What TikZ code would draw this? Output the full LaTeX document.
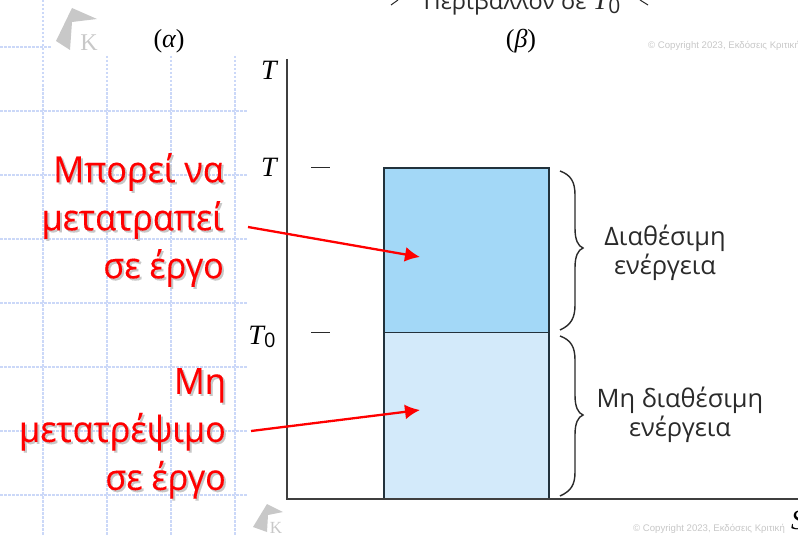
\documentclass[tikz,border=0pt]{standalone}
\usepackage{fontspec}
\setmainfont{Open Sans}
\newfontfamily\redfont[FakeStretch=0.95,FakeBold=0.2]{Open Sans}
\newfontfamily\mathlike{Liberation Serif}
\newfontfamily\helv{Liberation Sans}
\usetikzlibrary{arrows.meta}
\definecolor{gridc}{HTML}{CBD8F8}
\definecolor{darkline}{HTML}{22323C}
\definecolor{upperblue}{HTML}{A3D8F7}
\definecolor{lowerblue}{HTML}{D3EAFA}
\definecolor{inkc}{HTML}{2A2A2A}
\definecolor{logoc}{HTML}{C8C8C8}
\tikzset{
 x=1pt,y=-1pt,
 gridline/.style={gridc,line width=1.1pt,dash pattern=on 2.5pt off 1.5pt},
 redlabel/.style={text=red,anchor=north east,align=right,inner sep=0pt,font=\redfont\fontsize{36}{48}\selectfont},
 shadowlabel/.style={text=black!22,anchor=north east,align=right,inner sep=0pt,font=\redfont\fontsize{36}{48}\selectfont},
 redarrow/.style={red,line width=2.3pt,-{Latex[length=15pt,width=15pt]}},
 axisline/.style={inkc!90,line width=2pt},
 tickline/.style={inkc,line width=1pt},
 bracel/.style={inkc,line width=1.4pt},
 energy/.style={text=inkc,align=center,inner sep=0pt,font=\fontsize{25.4}{29}\selectfont},
 symb/.style={text=black,inner sep=0pt,font=\mathlike\fontsize{28}{30}\selectfont},
 paren/.style={text=black,inner sep=0pt,font=\mathlike\fontsize{26}{30}\selectfont},
 copyr/.style={text=black!22,inner sep=0pt,anchor=west,font=\helv\fontsize{9.6}{11}\selectfont},
 logop/.style={fill=logoc,draw=none},
 blockbox/.style={draw=darkline,line width=1.8pt,minimum width=165pt,inner sep=0pt,outer sep=0pt,anchor=north west},
}
\begin{document}
\begin{tikzpicture}
\useasboundingbox (0,0) rectangle (798,535);
\clip (0,0) rectangle (798,535);
% grid
\foreach \gy in {111,175,239,303,367,431,495} \draw[gridline] (0,\gy) -- (248,\gy);
\draw[gridline] (0,47) -- (52,47);
\draw[gridline] (43,0) -- (43,535);
\foreach \gx in {107,171,235} \draw[gridline] (\gx,56) -- (\gx,535);
% logos
\fill[logop] (72,8) -- (97,19) -- (72,22) -- (70,50) -- (56,41) -- cycle;
\node[inner sep=0pt,text=logoc,font=\mathlike\fontsize{24}{24}\selectfont] (logoa) at (89,43) {Κ};
\fill[logop] (267,504) -- (283,512) -- (268,515) -- (267,532) -- (253,527) -- cycle;
\node[inner sep=0pt,text=logoc,font=\mathlike\fontsize{17}{17}\selectfont] (logob) at (276,528) {Κ};
% boxes
\node[blockbox,fill=upperblue,minimum height=164.5pt] (hot) at (384,168) {};
\node[blockbox,fill=lowerblue,minimum height=166pt] (cold) at (384,332.5) {};
% axes
\coordinate (axtop) at (286.5,59);
\coordinate (axorg) at (286.5,498.5);
\coordinate (axend) at (798,498.5);
\draw[axisline] (axtop) -- (axorg) -- (axend);
\coordinate (t1a) at (311,167); \coordinate (t1b) at (330,167);
\coordinate (t2a) at (311,332); \coordinate (t2b) at (330,332);
\draw[tickline] (t1a) -- (t1b);
\draw[tickline] (t2a) -- (t2b);
% symbols
\node[symb] (ty) at (269,70) {\itshape T};
\node[symb] (tt) at (269,167) {\itshape T};
\node[symb] (tz) at (262,337) {\itshape T\raisebox{-0.3ex}{\normalfont\fontsize{20}{20}\selectfont 0}};
\node[symb] (sx) at (798,520) {\itshape S};
\node[paren] (la) at (169,41) {(\itshape α\upshape)};
\node[paren] (lb) at (521,41) {(\itshape β\upshape)};
\node[anchor=base,inner sep=0pt,text=inkc,font=\fontsize{23.5}{28}\selectfont] (env) at (522,9.5) {Περιβάλλον σε {\mathlike\itshape\fontsize{28}{28}\selectfont T}\raisebox{-0.3ex}{\fontsize{21}{21}\selectfont 0}};
\coordinate (c1a) at (398,0); \coordinate (c1b) at (391,5);
\draw[tickline] (c1a) -- (c1b);
\coordinate (c2a) at (640,0); \coordinate (c2b) at (648,5);
\draw[tickline] (c2a) -- (c2b);
% copyright
\node[copyr] (cr1) at (648,46) {© Copyright 2023, Εκδόσεις Κριτική};
\node[copyr] (cr2) at (633,529) {© Copyright 2023, Εκδόσεις Κριτική};
% braces
\draw[bracel] (560,171) .. controls (571,175) and (575,182) .. (575,195) -- (575,228) .. controls (575,240) and (578,246) .. (583,248) .. controls (578,250) and (575,256) .. (575,268) -- (575,305) .. controls (575,318) and (571,325) .. (560,330);
\draw[bracel] (560,336) .. controls (571,340) and (575,347) .. (575,360) -- (575,395) .. controls (575,407) and (578,413) .. (583,415) .. controls (578,417) and (575,423) .. (575,435) -- (575,472) .. controls (575,485) and (571,491) .. (560,496);
% right labels
\node[energy] (e1) at (665,253) {Διαθέσιμη\\ενέργεια};
\node[energy] (e2) at (680,414.5) {Μη διαθέσιμη\\ενέργεια};
% red labels
\node[shadowlabel] (s1) at (226,155) {Μπορεί να\\μετατραπεί\\σε έργο};
\node[redlabel] (r1) at (224,153) {Μπορεί να\\μετατραπεί\\σε έργο};
\node[shadowlabel] (s2) at (228,370) {Μη\\μετατρέψιμο\\σε έργο};
\node[redlabel] (r2) at (226,368) {Μη\\μετατρέψιμο\\σε έργο};
% arrows
\coordinate (a1s) at (248,227); \coordinate (a1e) at (420,257);
\coordinate (a2s) at (251,431); \coordinate (a2e) at (420,410);
\draw[redarrow] (a1s) -- (a1e);
\draw[redarrow] (a2s) -- (a2e);
\end{tikzpicture}
\end{document}
